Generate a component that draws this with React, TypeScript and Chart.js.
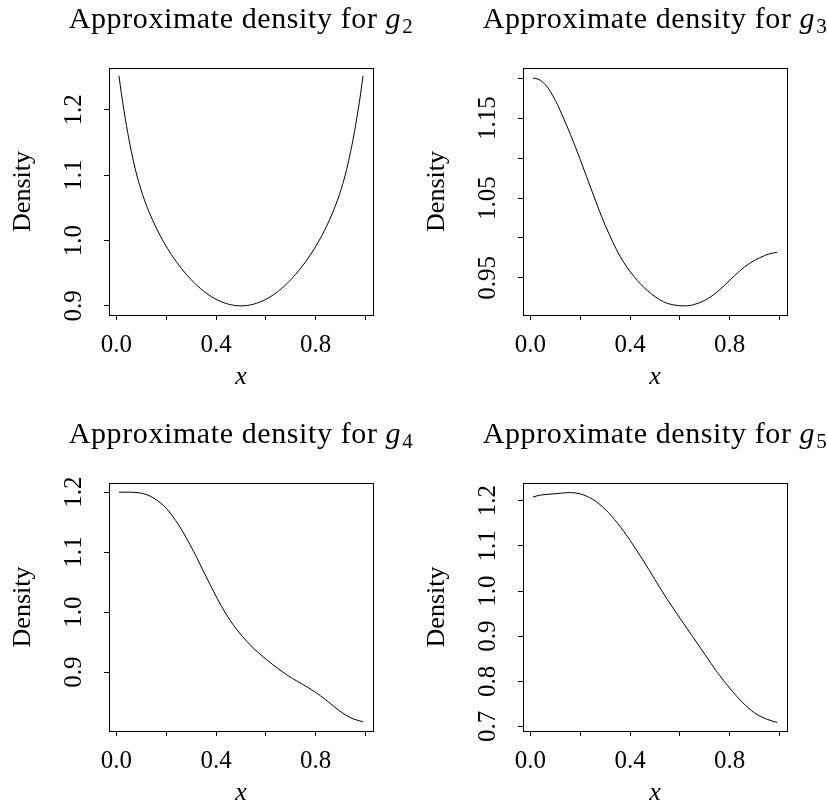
import React, { useEffect, useRef } from 'react';
import { Chart, registerables } from 'chart.js';

Chart.register(...registerables);

const FONT = '"Liberation Serif", "Times New Roman", serif';

// Shared x axis ticks
const X_TICKS = [0, 0.2, 0.4, 0.6, 0.8, 1.0];
const X_TICK_LABELS = ['0.0', '', '0.4', '', '0.8', ''];

// g2
const G2_X = [0.01, 0.02, 0.03, 0.04, 0.05, 0.06, 0.075, 0.09, 0.11, 0.13, 0.16, 0.19, 0.22, 0.26, 0.30, 0.35, 0.40, 0.45, 0.50, 0.55, 0.60, 0.65, 0.70, 0.74, 0.78, 0.81, 0.84, 0.87, 0.89, 0.91, 0.925, 0.94, 0.95, 0.96, 0.97, 0.98, 0.99];
const G2_Y = [1.252, 1.224, 1.199, 1.176, 1.155, 1.136, 1.110, 1.0885, 1.0645, 1.0445, 1.019, 0.9974, 0.9788, 0.9576, 0.940, 0.9225, 0.910, 0.9025, 0.900, 0.9025, 0.910, 0.9225, 0.940, 0.9576, 0.9788, 0.9974, 1.019, 1.0445, 1.0645, 1.0885, 1.110, 1.136, 1.155, 1.176, 1.199, 1.224, 1.252];
const G2_Y_TICKS = [0.9, 1.0, 1.1, 1.2];
const G2_Y_LABELS = ['0.9', '1.0', '1.1', '1.2'];

// g3
const G3_X = [0.01, 0.03, 0.05, 0.07, 0.09, 0.11, 0.13, 0.16, 0.20, 0.25, 0.30, 0.36, 0.415, 0.47, 0.535, 0.58, 0.62, 0.66, 0.70, 0.74, 0.78, 0.82, 0.86, 0.90, 0.94, 0.97, 0.99];
const G3_Y = [1.200, 1.199, 1.195, 1.188, 1.178, 1.166, 1.152, 1.130, 1.098, 1.056, 1.016, 0.977, 0.952, 0.934, 0.920, 0.916, 0.915, 0.917, 0.922, 0.930, 0.941, 0.953, 0.964, 0.972, 0.978, 0.981, 0.982];
const G3_Y_TICKS = [0.95, 1.0, 1.05, 1.1, 1.15, 1.2];
const G3_Y_LABELS = ['0.95', '', '1.05', '', '1.15', ''];

// g4
const G4_X = [0.01, 0.05, 0.09, 0.12, 0.15, 0.20, 0.25, 0.31, 0.36, 0.42, 0.47, 0.54, 0.605, 0.685, 0.77, 0.80, 0.84, 0.875, 0.91, 0.95, 0.99];
const G4_Y = [1.200, 1.200, 1.199, 1.196, 1.190, 1.173, 1.145, 1.101, 1.059, 1.011, 0.978, 0.944, 0.920, 0.895, 0.874, 0.866, 0.854, 0.842, 0.831, 0.822, 0.817];
const G4_Y_TICKS = [0.9, 1.0, 1.1, 1.2];
const G4_Y_LABELS = ['0.9', '1.0', '1.1', '1.2'];

// g5
const G5_X = [0.01, 0.035, 0.09, 0.16, 0.20, 0.25, 0.30, 0.35, 0.40, 0.45, 0.50, 0.55, 0.60, 0.65, 0.70, 0.75, 0.80, 0.85, 0.90, 0.95, 0.99];
const G5_Y = [1.208, 1.212, 1.215, 1.218, 1.215, 1.203, 1.181, 1.150, 1.112, 1.070, 1.025, 0.981, 0.940, 0.900, 0.860, 0.820, 0.785, 0.754, 0.730, 0.716, 0.709];
const G5_Y_TICKS = [0.7, 0.8, 0.9, 1.0, 1.1, 1.2];
const G5_Y_LABELS = ['0.7', '0.8', '0.9', '1.0', '1.1', '1.2'];

type PanelCfg = {
  sub: string;
  xs: number[];
  ys: number[];
  yTicks: number[];
  yLabels: string[];
  yMin: number;
  yMax: number;
  left: number;
  top: number;
  w: number;
  h: number;
  areaLeft: number;
  areaRight: number;
  areaTop: number;
  areaBottom: number;
};

const PANELS: PanelCfg[] = [
  { sub: '2', xs: G2_X, ys: G2_Y, yTicks: G2_Y_TICKS, yLabels: G2_Y_LABELS, yMin: 0.886, yMax: 1.264,
    left: 0, top: 0, w: 414, h: 400, areaLeft: 109, areaRight: 373, areaTop: 68, areaBottom: 315 },
  { sub: '3', xs: G3_X, ys: G3_Y, yTicks: G3_Y_TICKS, yLabels: G3_Y_LABELS, yMin: 0.9036, yMax: 1.2128,
    left: 414, top: 0, w: 413, h: 400, areaLeft: 109, areaRight: 373, areaTop: 68, areaBottom: 315 },
  { sub: '4', xs: G4_X, ys: G4_Y, yTicks: G4_Y_TICKS, yLabels: G4_Y_LABELS, yMin: 0.8017, yMax: 1.2153,
    left: 0, top: 400, w: 414, h: 405, areaLeft: 109, areaRight: 373, areaTop: 83, areaBottom: 331 },
  { sub: '5', xs: G5_X, ys: G5_Y, yTicks: G5_Y_TICKS, yLabels: G5_Y_LABELS, yMin: 0.69, yMax: 1.2392,
    left: 414, top: 400, w: 413, h: 405, areaLeft: 109, areaRight: 373, areaTop: 83, areaBottom: 331 },
];

const TICK_SIZE = 25;
const LABEL_SIZE = 26;
const TITLE_SIZE = 30;

const titlePlugin = {
  id: 'panelTitle',
  afterDraw(chart: any, _args: any, opts: any) {
    const { ctx, chartArea } = chart;
    const main = 'Approximate density for ';
    ctx.save();
    ctx.fillStyle = '#000';
    ctx.textBaseline = 'alphabetic';
    ctx.textAlign = 'left';
    try { ctx.letterSpacing = '0.6px'; } catch (e) {}
    ctx.font = `${TITLE_SIZE}px ${FONT}`;
    const w1 = ctx.measureText(main).width;
    ctx.font = `italic ${TITLE_SIZE}px ${FONT}`;
    const w2 = ctx.measureText('g').width;
    ctx.font = `21px ${FONT}`;
    const w3 = ctx.measureText(opts.sub).width;
    const total = w1 + w2 + 1 + w3;
    let x = (chartArea.left + chartArea.right) / 2 - total / 2;
    const y = chartArea.top - 40;
    ctx.font = `${TITLE_SIZE}px ${FONT}`;
    ctx.fillText(main, x, y);
    x += w1;
    ctx.font = `italic ${TITLE_SIZE}px ${FONT}`;
    ctx.fillText('g', x, y);
    x += w2 + 1;
    ctx.font = `21px ${FONT}`;
    ctx.fillText(opts.sub, x, y + 5);
    ctx.restore();
  },
};

const boxPlugin = {
  id: 'plotBox',
  afterDraw(chart: any) {
    const { ctx, chartArea } = chart;
    const { left, top, right, bottom } = chartArea;
    ctx.save();
    ctx.strokeStyle = '#000';
    ctx.lineWidth = 1;
    ctx.strokeRect(Math.floor(left) + 0.5, Math.floor(top) + 0.5, Math.round(right - left), Math.round(bottom - top));
    ctx.restore();
  },
};

function measureWidest(labels: string[]): number {
  const c = document.createElement('canvas');
  const ctx = c.getContext('2d')!;
  ctx.font = `${TICK_SIZE}px ${FONT}`;
  let m = 0;
  for (const l of labels) m = Math.max(m, ctx.measureText(l).width);
  return m;
}

function Panel({ cfg }: { cfg: PanelCfg }) {
  const ref = useRef<HTMLCanvasElement | null>(null);
  useEffect(() => {
    if (!ref.current) return;
    const widest = measureWidest(cfg.yLabels);
    const yLabelPad = 29.5 - widest / 2;
    const xAxisH = cfg.h - cfg.areaBottom;
    const xTitleAnchor = cfg.areaBottom + 62;
    const xTitlePadBottom = cfg.h - xTitleAnchor - (LABEL_SIZE * 1.2) / 2;

    const chart = new Chart(ref.current, {
      type: 'line',
      data: {
        datasets: [
          {
            data: cfg.xs.map((x, i) => ({ x, y: cfg.ys[i] })),
            borderColor: '#000',
            borderWidth: 1,
            pointRadius: 0,
            fill: false,
            cubicInterpolationMode: 'monotone',
          },
        ],
      },
      options: {
        animation: false,
        responsive: false,
        devicePixelRatio: 1,
        events: [],
        layout: {
          padding: { left: 0, top: cfg.areaTop, right: cfg.w - cfg.areaRight, bottom: 0 },
        },
        plugins: {
          legend: { display: false },
          tooltip: { enabled: false },
          title: { display: false },
          panelTitle: { sub: cfg.sub },
        } as any,
        scales: {
          x: {
            type: 'linear',
            min: -0.03,
            max: 1.03,
            afterBuildTicks: (scale: any) => {
              scale.ticks = X_TICKS.map((v) => ({ value: v }));
            },
            afterFit: (scale: any) => {
              scale.height = xAxisH;
            },
            grid: { drawOnChartArea: false, drawTicks: true, tickLength: 5, color: '#000', lineWidth: 1 },
            border: { display: true, color: '#000', width: 1 },
            ticks: {
              autoSkip: false,
              maxRotation: 0,
              minRotation: 0,
              padding: 10,
              color: '#000',
              font: { family: FONT, size: TICK_SIZE },
              callback: (_v: any, i: number) => X_TICK_LABELS[i],
            },
            title: {
              display: true,
              text: 'x',
              color: '#000',
              font: { family: FONT, size: LABEL_SIZE, style: 'italic' },
              padding: { top: 0, bottom: xTitlePadBottom },
            },
          },
          y: {
            type: 'linear',
            min: cfg.yMin,
            max: cfg.yMax,
            afterBuildTicks: (scale: any) => {
              scale.ticks = cfg.yTicks.map((v) => ({ value: v }));
            },
            afterFit: (scale: any) => {
              scale.width = cfg.areaLeft;
            },
            grid: { drawOnChartArea: false, drawTicks: true, tickLength: 5, color: '#000', lineWidth: 1 },
            border: { display: true, color: '#000', width: 1 },
            ticks: {
              autoSkip: false,
              minRotation: 90,
              maxRotation: 90,
              crossAlign: 'center',
              padding: yLabelPad,
              color: '#000',
              font: { family: FONT, size: TICK_SIZE },
              callback: (_v: any, i: number) => cfg.yLabels[i],
            },
            title: {
              display: true,
              text: 'Density',
              color: '#000',
              font: { family: FONT, size: LABEL_SIZE },
              padding: { top: 8, bottom: 0 },
            },
          },
        },
      } as any,
      plugins: [titlePlugin, boxPlugin],
    });
    return () => chart.destroy();
  }, [cfg]);

  return (
    <canvas
      ref={ref}
      width={cfg.w}
      height={cfg.h}
      style={{ position: 'absolute', left: cfg.left, top: cfg.top, width: cfg.w, height: cfg.h, display: 'block' }}
    />
  );
}

export default function App() {
  return (
    <div style={{ position: 'absolute', left: 0, top: 0, width: 827, height: 805, background: '#fff' }}>
      {PANELS.map((p) => (
        <Panel key={p.sub} cfg={p} />
      ))}
    </div>
  );
}
